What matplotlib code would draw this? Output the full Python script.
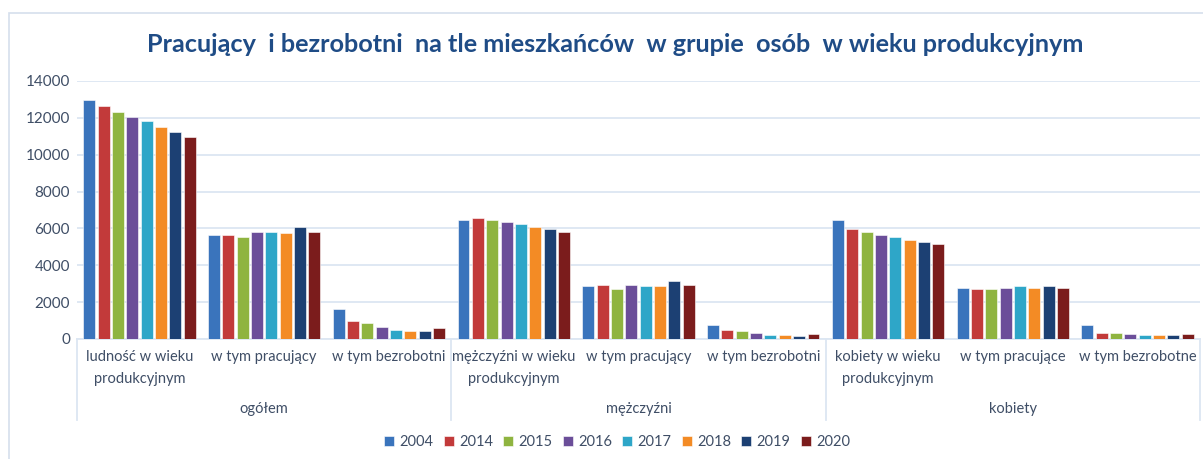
import numpy as np
import matplotlib
matplotlib.use("Agg")
import matplotlib.pyplot as plt
from matplotlib.patches import Rectangle
from matplotlib.lines import Line2D
import matplotlib.transforms as mtransforms

plt.rcParams['font.family'] = ['Lato', 'DejaVu Sans']

years = ['2004', '2014', '2015', '2016', '2017', '2018', '2019', '2020']

categories = ['ludność w wieku\nprodukcyjnym', 'w tym pracujący', 'w tym bezrobotni',
              'mężczyźni w wieku\nprodukcyjnym', 'w tym pracujący', 'w tym bezrobotni',
              'kobiety w wieku\nprodukcyjnym', 'w tym pracujące', 'w tym bezrobotne']
groups = ['ogółem', 'mężczyźni', 'kobiety']

# one row per year, one value per category
v2004 = [12950, 5650, 1650, 6450, 2850, 780, 6450, 2780, 780]
v2014 = [12620, 5650, 950, 6580, 2930, 510, 5950, 2710, 350]
v2015 = [12310, 5530, 860, 6450, 2710, 420, 5800, 2710, 350]
v2016 = [12020, 5800, 640, 6360, 2930, 350, 5650, 2780, 290]
v2017 = [11820, 5800, 510, 6240, 2850, 220, 5510, 2850, 200]
v2018 = [11530, 5730, 440, 6090, 2850, 200, 5380, 2780, 200]
v2019 = [11250, 6090, 440, 5950, 3150, 150, 5290, 2850, 200]
v2020 = [10950, 5800, 580, 5820, 2930, 290, 5160, 2780, 290]
values = [v2004, v2014, v2015, v2016, v2017, v2018, v2019, v2020]

colors = ['#3A74BC', '#C23A3A', '#8FB440', '#6B4E99', '#2EA6C8',
          '#F38B25', '#1C4073', '#7B1C1C']

text_col = '#3F4E66'
grid_col = '#DCE6F2'

fig = plt.figure(figsize=(12.03, 4.59), dpi=100)
ax = fig.add_axes([77 / 1203, 1 - 339 / 459, (1200 - 77) / 1203, 258 / 459])

# chart border
fig.patches.append(Rectangle((9 / 1203, -0.05), 1.1, 1 - 13 / 459 + 0.05,
                             transform=fig.transFigure, fill=False,
                             edgecolor='#D5DFEC', linewidth=1.2))

x = np.arange(len(categories))
pitch = 0.115
width = 0.096
for i, (yr, vals, c) in enumerate(zip(years, values, colors)):
    ax.bar(x + (i - 3.5) * pitch, vals, width, color=c, label=yr,
           edgecolor='#FFFFFF', linewidth=0.4, zorder=3)

ax.set_xlim(-0.5, len(categories) - 0.5)
ax.set_ylim(0, 14000)
ax.set_yticks(np.arange(0, 14001, 2000))
ax.yaxis.grid(True, color=grid_col, linewidth=1.3)
ax.set_axisbelow(True)
for s in ['top', 'right', 'left']:
    ax.spines[s].set_visible(False)
ax.spines['bottom'].set_color(grid_col)
ax.spines['bottom'].set_linewidth(1.3)
ax.tick_params(axis='y', length=0, pad=5, labelsize=11, labelcolor=text_col)
ax.tick_params(axis='x', length=0)
ax.set_xticks([])

# category labels
trans = mtransforms.blended_transform_factory(ax.transData, ax.transAxes)
for xi, lab in zip(x, categories):
    ax.text(xi, -0.042, lab, transform=trans, ha='center', va='top',
            fontsize=10.5, color=text_col, linespacing=1.75)
for gi, g in enumerate(groups):
    ax.text(3 * gi + 1, -0.27, g, transform=trans, ha='center', va='center',
            fontsize=10.5, color=text_col)
# category separators
for xs in [-0.5, 2.5, 5.5, 8.5]:
    ax.add_line(Line2D([xs, xs], [0, -0.315], transform=trans, color=grid_col,
                       linewidth=1.3, clip_on=False))

fig.text(615 / 1203, 1 - 45 / 459,
         'Pracujący  i bezrobotni  na tle mieszkańców  w grupie  osób  w wieku produkcyjnym',
         ha='center', va='center', fontsize=18.2, fontweight='bold', color='#1F4C86')

fig.legend(loc='center', bbox_to_anchor=(617 / 1203, 1 - 442 / 459), ncol=8,
           frameon=False, fontsize=10.5, labelcolor=text_col, handlelength=0.7,
           handleheight=0.7, handletextpad=0.35, columnspacing=0.7)

fig.savefig('out.png', dpi=100)
